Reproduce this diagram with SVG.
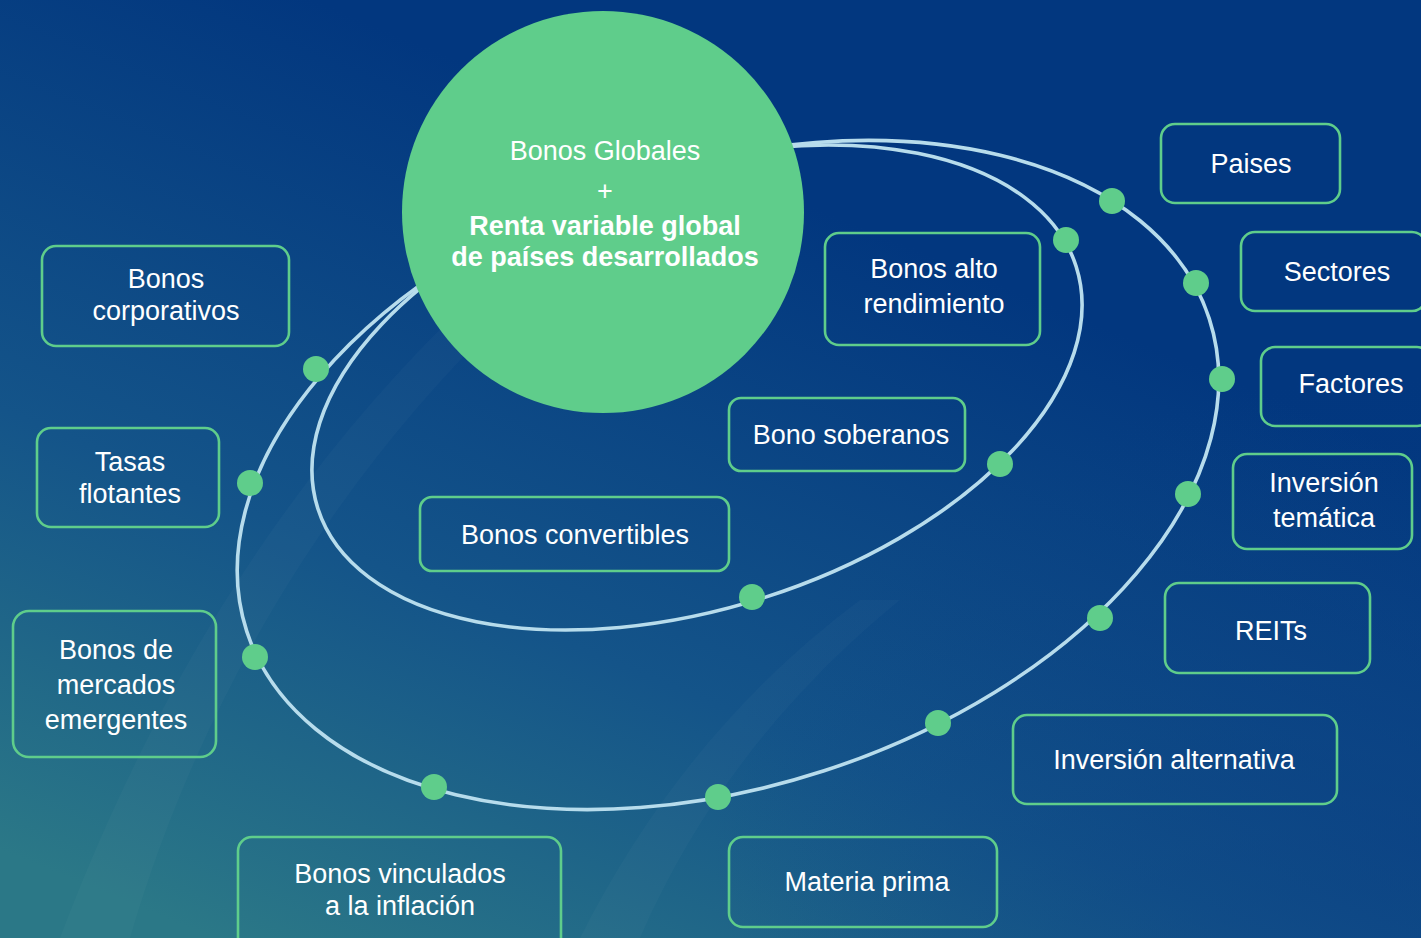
<svg xmlns="http://www.w3.org/2000/svg" width="1421" height="938" viewBox="0 0 1421 938">
<defs>
<linearGradient id="bg" x1="0.15" y1="1" x2="0.62" y2="0.25">
<stop offset="0" stop-color="#2b7887"/>
<stop offset="0.45" stop-color="#145489"/>
<stop offset="1" stop-color="#02377f"/>
</linearGradient>
<radialGradient id="rshade" cx="1" cy="0.9" r="0.5">
<stop offset="0" stop-color="#0a3f84" stop-opacity="0.6"/>
<stop offset="1" stop-color="#0a3f84" stop-opacity="0"/>
</radialGradient>
<style>
.box{fill:none;stroke:#5fcd8b;stroke-width:2.6}
.lbl{font-family:"Liberation Sans",Arial,sans-serif;font-size:27px;fill:#ffffff;text-anchor:middle}
.ring{fill:none;stroke:#b7dcec;stroke-width:3.6}
.dot{fill:#5fcd8b}
</style>
</defs>
<rect width="1421" height="938" fill="url(#bg)"/>
<rect width="1421" height="938" fill="url(#rshade)"/>
<path d="M60,938 C150,700 280,480 470,300 L520,300 C330,480 200,700 130,938 Z" fill="#ffffff" opacity="0.025"/>
<path d="M580,938 C650,800 740,690 860,600 L900,600 C790,690 700,800 640,938 Z" fill="#ffffff" opacity="0.025"/>

<g id="connectors">
<ellipse class="ring" cx="728" cy="475" rx="506" ry="311" transform="rotate(-18 728 475)"/>
<ellipse class="ring" cx="697" cy="387.5" rx="398" ry="220.6" transform="rotate(-17.7 697 387.5)"/>
</g>

<g id="center">
<circle cx="603" cy="212" r="201" fill="#5fcd8b"/>
<text class="lbl" x="605" y="160">Bonos Globales</text>
<text class="lbl" x="605" y="200">+</text>
<text class="lbl" x="605" y="235" style="font-weight:bold">Renta variable global</text>
<text class="lbl" x="605" y="266" style="font-weight:bold">de países desarrollados</text>
</g>

<g id="dots">
<circle class="dot" cx="1112" cy="201" r="13"/>
<circle class="dot" cx="1196" cy="283" r="13"/>
<circle class="dot" cx="1222" cy="379" r="13"/>
<circle class="dot" cx="1188" cy="494" r="13"/>
<circle class="dot" cx="1100" cy="618" r="13"/>
<circle class="dot" cx="938" cy="723" r="13"/>
<circle class="dot" cx="718" cy="797" r="13"/>
<circle class="dot" cx="434" cy="787" r="13"/>
<circle class="dot" cx="255" cy="657" r="13"/>
<circle class="dot" cx="250" cy="483" r="13"/>
<circle class="dot" cx="316" cy="369" r="13"/>
<circle class="dot" cx="1066" cy="240" r="13"/>
<circle class="dot" cx="1000" cy="464" r="13"/>
<circle class="dot" cx="752" cy="597" r="13"/>
</g>

<g id="paises"><rect class="box" x="1161" y="124" width="179" height="79" rx="14"/><text class="lbl" x="1251" y="173">Paises</text></g>
<g id="sectores"><rect class="box" x="1241" y="232" width="185" height="79" rx="14"/><text class="lbl" x="1337" y="281">Sectores</text></g>
<g id="factores"><rect class="box" x="1261" y="347" width="170" height="79" rx="14"/><text class="lbl" x="1351" y="393">Factores</text></g>
<g id="tematica"><rect class="box" x="1233" y="454" width="179" height="95" rx="14"/><text class="lbl" x="1324" y="492">Inversión</text><text class="lbl" x="1324" y="527">temática</text></g>
<g id="reits"><rect class="box" x="1165" y="583" width="205" height="90" rx="14"/><text class="lbl" x="1271" y="640">REITs</text></g>
<g id="alternativa"><rect class="box" x="1013" y="715" width="324" height="89" rx="14"/><text class="lbl" x="1174" y="769">Inversión alternativa</text></g>
<g id="materia"><rect class="box" x="729" y="837" width="268" height="90" rx="14"/><text class="lbl" x="867" y="891">Materia prima</text></g>
<g id="vinculados"><rect class="box" x="238" y="837" width="323" height="115" rx="14"/><text class="lbl" x="400" y="883">Bonos vinculados</text><text class="lbl" x="400" y="915">a la inflación</text></g>
<g id="emergentes"><rect class="box" x="13" y="611" width="203" height="146" rx="16"/><text class="lbl" x="116" y="659">Bonos de</text><text class="lbl" x="116" y="694">mercados</text><text class="lbl" x="116" y="729">emergentes</text></g>
<g id="tasas"><rect class="box" x="37" y="428" width="182" height="99" rx="14"/><text class="lbl" x="130" y="471">Tasas</text><text class="lbl" x="130" y="503">flotantes</text></g>
<g id="corporativos"><rect class="box" x="42" y="246" width="247" height="100" rx="14"/><text class="lbl" x="166" y="288">Bonos</text><text class="lbl" x="166" y="320">corporativos</text></g>
<g id="altorendimiento"><rect class="box" x="825" y="233" width="215" height="112" rx="14"/><text class="lbl" x="934" y="278">Bonos alto</text><text class="lbl" x="934" y="313">rendimiento</text></g>
<g id="soberanos"><rect class="box" x="729" y="398" width="236" height="73" rx="12"/><text class="lbl" x="851" y="444">Bono soberanos</text></g>
<g id="convertibles"><rect class="box" x="420" y="497" width="309" height="74" rx="12"/><text class="lbl" x="575" y="544">Bonos convertibles</text></g>
</svg>
